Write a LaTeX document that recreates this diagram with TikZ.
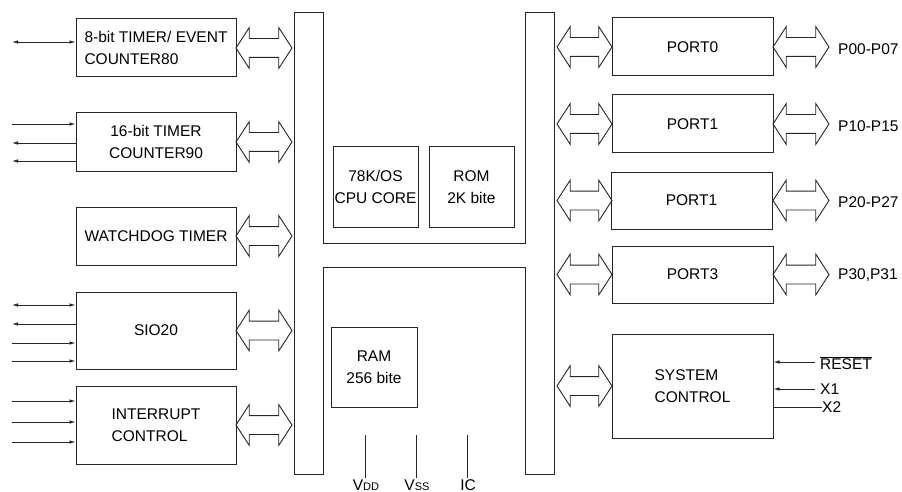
\documentclass[tikz,border=0pt]{standalone}
\usepackage{fontspec}
\setmainfont{Liberation Sans}
\usepackage{tikz}
\usetikzlibrary{
    positioning,
    arrows.meta,
    shapes.arrows
}
\newcommand{\subcap}[1]{{\fontsize{11}{13}\selectfont #1}}

\begin{document}
\begin{tikzpicture}[
  x=1pt, y=-1pt,
  font=\fontsize{15.5}{22}\selectfont,
  >={Latex[length=6pt,width=3.5pt]},
  line/.style={draw=black!85, line width=0.8pt},
  block/.style={draw=black!85, line width=1pt, rectangle, align=center, inner sep=2pt},
  busarrow/.style={draw=black!85, line width=0.9pt, double arrow, double arrow head extend=11pt,
                   double arrow tip angle=114, minimum width=40pt, inner xsep=0pt, inner ysep=9pt},
  lab/.style={inner sep=0pt, anchor=west},
  pwr/.style={inner sep=1pt, anchor=base}
]

\useasboundingbox (0,0) rectangle (902,492);

% Internal bus
\draw[line, line width=1pt] (294,13) -- (323,13) -- (323,243) -- (525,243) -- (525,13) -- (554,13)
  -- (554,474) -- (525,474) -- (525,267) -- (323,267) -- (323,474) -- (294,474) -- cycle;

% Peripheral blocks (left)
\node[block, align=left, minimum width=160pt, minimum height=58pt] (tm80) at (156,48) {8-bit TIMER/ EVENT\\COUNTER80};
\node[block, minimum width=160pt, minimum height=58pt] (tm90) at (156,142) {16-bit TIMER\\COUNTER90};
\node[block, minimum width=160pt, minimum height=58pt] (wdt) at (156,236) {WATCHDOG TIMER};
\node[block, minimum width=160pt, minimum height=77pt] (sio) at (156,330.5) {SIO20};
\node[block, align=left, minimum width=160pt, minimum height=78pt] (intp) at (156,425) {INTERRUPT\\CONTROL};

% Core, memory
\node[block, minimum width=85pt, minimum height=80pt, inner sep=0pt] (cpu) at (375.5,187) {78K/OS\\CPU CORE};
\node[block, minimum width=85pt, minimum height=80pt] (rom) at (471.5,187) {ROM\\2K bite};
\node[block, minimum width=86pt, minimum height=80pt] (ram) at (374,367) {RAM\\256 bite};

% Ports and system control (right)
\node[block, minimum width=161pt, minimum height=58pt] (port0) at (692.5,47) {PORT0};
\node[block, minimum width=161pt, minimum height=58pt] (port1) at (692.5,124) {PORT1};
\node[block, minimum width=161pt, minimum height=57pt] (port2) at (691.5,200.5) {PORT1};
\node[block, minimum width=161pt, minimum height=57pt] (port3) at (692.5,274.5) {PORT3};
\node[block, align=left, minimum width=161pt, minimum height=104pt] (sys) at (692.5,386) {SYSTEM\\CONTROL};

% Bus arrows
\foreach \blk in {tm80, tm90, wdt, sio, intp}
  \node[busarrow, minimum height=56pt] (ba-\blk) at (264,0 |- \blk) {};
\foreach \blk in {port0, port1, port2, port3, sys}
  \node[busarrow, minimum height=55pt] (bb-\blk) at (584.5,0 |- \blk) {};
\foreach \blk in {port0, port1, port2, port3}
  \node[busarrow, minimum height=56pt] (bc-\blk) at (801,0 |- \blk) {};

% Port pins
\node[lab] (p0) at (838,49) {P00-P07};
\node[lab] (p1) at (838,126) {P10-P15};
\node[lab] (p2) at (838,202) {P20-P27};
\node[lab] (p3) at (838,275) {P30,P31};

% Left signal lines
\foreach \y/\tip [count=\i] in {42/{<->}, 124/{->}, 143/{<-}, 161/{<-}, 305/{<->}, 324/{<-},
                                 343/{->}, 361/{->}, 401/{->}, 422/{->}, 442/{->}} {
  \coordinate (in\i) at (12,\y);
  \draw[line, \tip] (in\i) -- (in\i -| tm80.west);
}

% System control signals
\node[lab, inner sep=0pt] (rst) at (820,363) {$\overline{\hbox{RESET}}$};
\node[lab] (x1) at (820,389) {X1};
\node[lab] (x2) at (822,407) {X2};
\coordinate (rstin) at (815,362);
\coordinate (x1in) at (815,389);
\draw[line, ->] (rstin) -- (rstin -| sys.east);
\draw[line, ->] (x1in) -- (x1in -| sys.east);
\draw[line] (sys.east |- x2) -- (x2.west);

% Power pins
\node[pwr] (vdd) at (366,490) {V\subcap{DD}};
\node[pwr] (vss) at (417,490) {V\subcap{SS}};
\node[pwr] (ic) at (468,490) {IC};
\coordinate (vddt) at (365,435);
\coordinate (vsst) at (416,435);
\coordinate (ict) at (467,435);
\draw[line] (vddt) -- (vddt |- vdd.north);
\draw[line] (vsst) -- (vsst |- vss.north);
\draw[line] (ict) -- (ict |- ic.north);

\end{tikzpicture}
\end{document}
